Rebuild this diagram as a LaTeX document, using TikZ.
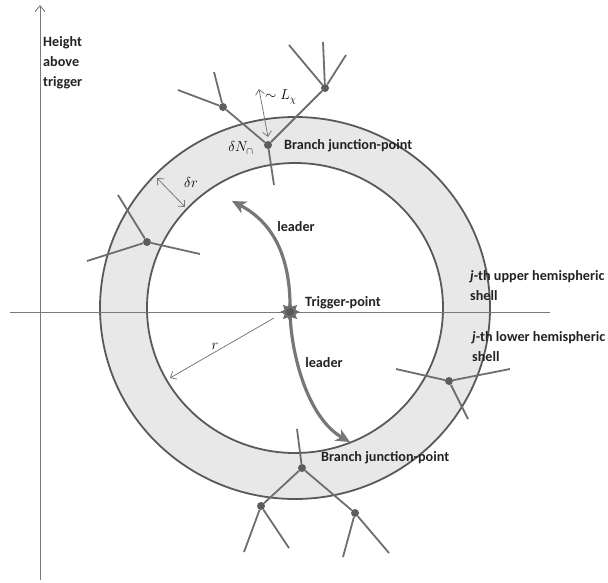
\documentclass[tikz,border=0pt]{standalone}
\usepackage[no-math]{fontspec}
\setmainfont{Carlito}
\usepackage{amsmath}
\usepackage{amssymb}
\usepackage{xcolor}
\usepackage{tikz}
\usetikzlibrary{arrows.meta,shapes.geometric}

\definecolor{ringfill}{HTML}{E8E8E8}
\definecolor{ringline}{HTML}{595959}
\definecolor{branchgray}{HTML}{6E6E6E}
\definecolor{leadgray}{HTML}{777777}
\definecolor{axisgray}{HTML}{7A7A7A}
\definecolor{txtgray}{HTML}{222222}

\begin{document}
\begin{tikzpicture}[x=1pt,y=-1pt,
    axis/.style={axisgray,line width=0.9pt},
    branch/.style={branchgray,line width=1.8pt},
    junc/.style={circle,fill=branchgray!85!black,inner sep=0pt,minimum size=8pt},
    leaderarrow/.style={leadgray,line width=3.2pt,-{Stealth[length=14pt,width=13pt,inset=4pt]}},
    measure/.style={axisgray,line width=0.8pt,{Straight Barb[length=5pt,width=9pt]}-{Straight Barb[length=5pt,width=9pt]}},
    radius/.style={axisgray,line width=0.8pt,-{Straight Barb[length=5pt,width=9pt]}},
    lbl/.style={txtgray,font=\bfseries\fontsize{14.2}{20}\selectfont,inner sep=0pt}]
    \useasboundingbox (0,0) rectangle (608,582);

    % shell between the two hemispheric surfaces
    \coordinate (c) at (295,308);
    \fill[ringfill,even odd rule] (c) ellipse (195 and 191) (c) ellipse (148 and 145);
    \draw[ringline,line width=1.8pt] (c) ellipse (195 and 191);
    \draw[ringline,line width=1.8pt] (c) ellipse (148 and 145);

    % axes
    \coordinate (xl) at (10,312);
    \coordinate (xr) at (550,312);
    \coordinate (yb) at (40,580);
    \coordinate (yt) at (40,5);
    \draw[axis] (xl) -- (xr);
    \draw[axis,-{Straight Barb[length=6pt,width=10pt]}] (yb) -- (yt);
    \node[lbl,anchor=north west,align=left] (hgt) at (43,36) {Height\\above\\trigger};

    % leaders from the trigger point
    \coordinate (trig) at (290,312);
    \coordinate (upend) at (232,201);
    \coordinate (downend) at (350,442);
    \draw[leaderarrow] (trig) .. controls (291,265) and (278,225) .. (upend);
    \draw[leaderarrow] (trig) .. controls (291,355) and (308,418) .. (downend);
    \node[star,star points=8,star point ratio=1.7,fill=branchgray,minimum size=20pt,inner sep=0pt] (star) at (trig) {};
    \node[circle,fill=ringline,minimum size=8pt,inner sep=0pt] (dot) at (trig) {};
    \node[lbl,anchor=west] (trigtxt) at (305,303) {Trigger-point};
    \node[lbl] (lead1) at (296,227) {leader};
    \node[lbl] (lead2) at (324,363) {leader};

    % upper branch
    \node[junc] (top) at (268,145) {};
    \node[junc] (tl) at (223,107) {};
    \node[junc] (tr) at (325,88) {};
    \coordinate (topdn) at (274,185);
    \coordinate (tla) at (178,90);
    \coordinate (tlb) at (214,72);
    \coordinate (tra) at (289,45);
    \coordinate (trb) at (323,42);
    \coordinate (trc) at (346,55);
    \draw[branch] (topdn) -- (top);
    \draw[branch] (tla) -- (tl) -- (top) -- (tr);
    \draw[branch] (tlb) -- (tl);
    \draw[branch] (tra) -- (tr);
    \draw[branch] (trb) -- (tr);
    \draw[branch] (trc) -- (tr);
    \coordinate (lxa) at (259,89);
    \coordinate (lxb) at (268,137);
    \draw[measure] (lxa) -- (lxb);
    \node[anchor=west,inner sep=0pt] (lxtxt) at (265,97) {\Large$\sim L_{\chi}$};
    \node[inner sep=0pt] (dn) at (241,148) {\Large$\delta N_{\cap}$};
    \node[lbl,anchor=west] (bjp1) at (284,146) {Branch junction-point};

    % left branch
    \node[junc] (lft) at (147,242) {};
    \coordinate (la) at (118,195);
    \coordinate (lb) at (200,254);
    \coordinate (lc) at (87,261);
    \draw[branch] (la) -- (lft) -- (lb);
    \draw[branch] (lc) -- (lft);
    \coordinate (dra) at (157,178);
    \coordinate (drb) at (185,207);
    \draw[measure] (dra) -- (drb);
    \node[inner sep=0pt] (drtxt) at (191,182) {\Large$\delta r$};

    % radius
    \coordinate (ra) at (274,318);
    \coordinate (rb) at (170,378);
    \draw[radius] (ra) -- (rb);
    \node[inner sep=0pt] (rtxt) at (215,346) {\Large$r$};

    % right branch
    \node[junc] (rgt) at (449,381) {};
    \coordinate (rga) at (396,369);
    \coordinate (rgb) at (510,369);
    \coordinate (rgc) at (468,419);
    \draw[branch] (rga) -- (rgt) -- (rgb);
    \draw[branch] (rgc) -- (rgt);
    \node[lbl,anchor=west,align=left] (upper) at (470,286) {\textit{j}-th upper hemispheric\\shell};
    \node[lbl,anchor=west,align=left] (lower) at (472,347) {\textit{j}-th lower hemispheric\\shell};

    % lower branch
    \node[junc] (bot) at (302,468) {};
    \node[junc] (bl) at (261,506) {};
    \node[junc] (br) at (355,513) {};
    \coordinate (botup) at (297,429);
    \coordinate (bla) at (244,552);
    \coordinate (blb) at (289,548);
    \coordinate (bra) at (343,557);
    \coordinate (brb) at (389,553);
    \draw[branch] (botup) -- (bot);
    \draw[branch] (bl) -- (bot) -- (br);
    \draw[branch] (bla) -- (bl) -- (blb);
    \draw[branch] (bra) -- (br) -- (brb);
    \node[lbl,anchor=west] (bjp2) at (321,458) {Branch junction-point};
\end{tikzpicture}
\end{document}
